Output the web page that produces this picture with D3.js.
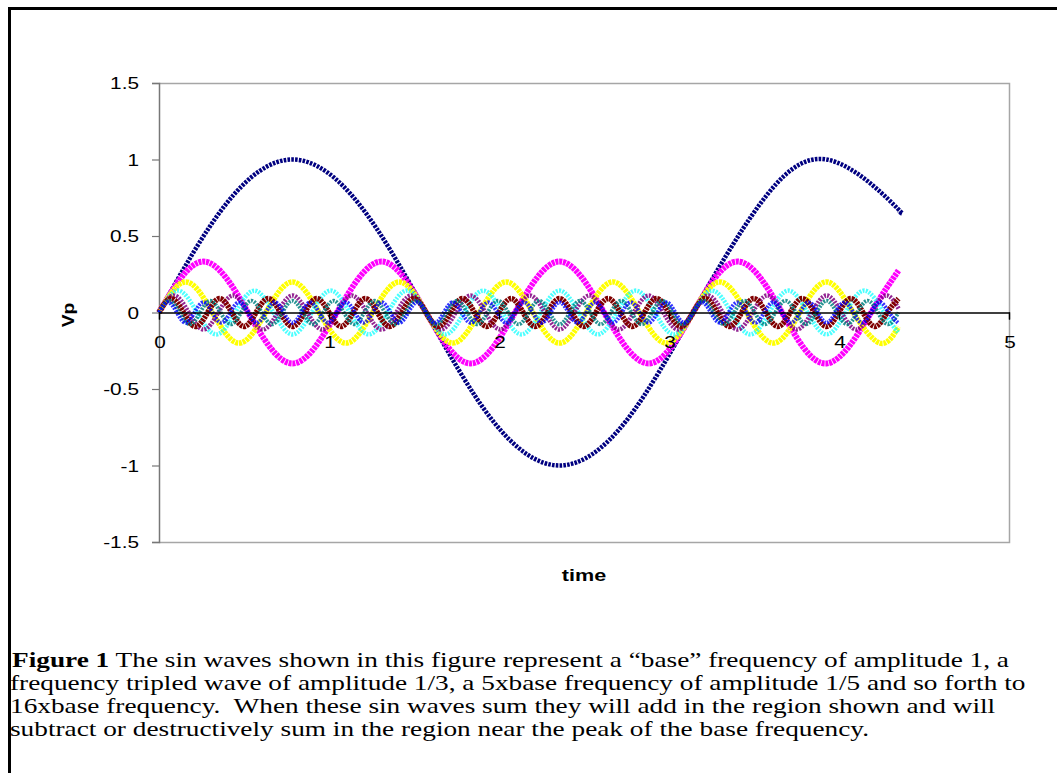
<!DOCTYPE html>
<html>
<head>
<meta charset="utf-8">
<script src="https://cdn.jsdelivr.net/npm/d3@7/dist/d3.min.js"></script>
<style>
  body { margin: 0; background: #fff; }
  svg { display: block; }
</style>
</head>
<body>
<div id="chart"></div>
<script>
// harmonic order of each wave (base, 3x, 5x ... 15x)
var harmonics = [1, 3, 5, 7, 9, 11, 13, 15];
var seriesColors = ['#000080', '#ff00ff', '#ffff00', '#00ffff', '#800080', '#800000', '#008080', '#0000ff'];

// time / Vp readings for each wave (peaks, zero crossings and the last point)
var time1 = [0, 0.393, 0.785, 1.178, 1.571, 1.963, 2.356, 2.749, 3.142, 3.534, 3.927, 4.320, 4.35];
var vp1 = [0, 0.707, 1, 0.707, 0, -0.707, -1, -0.707, 0, 0.707, 1, 0.707, 0.663];

var time3 = [0, 0.262, 0.524, 0.785, 1.047, 1.309, 1.571, 1.833, 2.094, 2.356, 2.618, 2.880, 3.142, 3.403, 3.665, 3.927, 4.189, 4.35];
var vp3 = [0, 0.333, 0, -0.333, 0, 0.333, 0, -0.333, 0, 0.333, 0, -0.333, 0, 0.333, 0, -0.333, 0, 0.274];

var time5 = [0, 0.157, 0.314, 0.471, 0.628, 0.785, 0.942, 1.100, 1.257, 1.414, 1.571, 1.728, 1.885, 2.042, 2.199, 2.356,
  2.513, 2.670, 2.827, 2.985, 3.142, 3.299, 3.456, 3.613, 3.770, 3.927, 4.084, 4.241, 4.35];
var vp5 = [0, 0.2, 0, -0.2, 0, 0.2, 0, -0.2, 0, 0.2, 0, -0.2, 0, 0.2, 0, -0.2,
  0, 0.2, 0, -0.2, 0, 0.2, 0, -0.2, 0, 0.2, 0, -0.2, -0.093];

var time7 = [0, 0.112, 0.224, 0.337, 0.449, 0.561, 0.673, 0.785, 0.898, 1.010, 1.122, 1.234, 1.346, 1.459, 1.571, 1.683,
  1.795, 1.907, 2.020, 2.132, 2.244, 2.356, 2.468, 2.581, 2.693, 2.805, 2.917, 3.029, 3.142, 3.254, 3.366, 3.478,
  3.590, 3.703, 3.815, 3.927, 4.039, 4.151, 4.264, 4.35];
var vp7 = [0, 0.143, 0, -0.143, 0, 0.143, 0, -0.143, 0, 0.143, 0, -0.143, 0, 0.143, 0, -0.143,
  0, 0.143, 0, -0.143, 0, 0.143, 0, -0.143, 0, 0.143, 0, -0.143, 0, 0.143, 0, -0.143,
  0, 0.143, 0, -0.143, 0, 0.143, 0, -0.134];

var time9 = [0, 0.087, 0.175, 0.262, 0.349, 0.436, 0.524, 0.611, 0.698, 0.785, 0.873, 0.960, 1.047, 1.134, 1.222, 1.309,
  1.396, 1.484, 1.571, 1.658, 1.745, 1.833, 1.920, 2.007, 2.094, 2.182, 2.269, 2.356, 2.443, 2.531, 2.618, 2.705,
  2.793, 2.880, 2.967, 3.054, 3.142, 3.229, 3.316, 3.403, 3.491, 3.578, 3.665, 3.752, 3.840, 3.927, 4.014, 4.102,
  4.189, 4.276, 4.35];
var vp9 = [0, 0.111, 0, -0.111, 0, 0.111, 0, -0.111, 0, 0.111, 0, -0.111, 0, 0.111, 0, -0.111,
  0, 0.111, 0, -0.111, 0, 0.111, 0, -0.111, 0, 0.111, 0, -0.111, 0, 0.111, 0, -0.111,
  0, 0.111, 0, -0.111, 0, 0.111, 0, -0.111, 0, 0.111, 0, -0.111, 0, 0.111, 0, -0.111,
  0, 0.111, 0.026];

var time11 = [0, 0.071, 0.143, 0.214, 0.286, 0.357, 0.428, 0.500, 0.571, 0.643, 0.714, 0.785, 0.857, 0.928, 1.000, 1.071,
  1.142, 1.214, 1.285, 1.357, 1.428, 1.499, 1.571, 1.642, 1.714, 1.785, 1.856, 1.928, 1.999, 2.071, 2.142, 2.213,
  2.285, 2.356, 2.428, 2.499, 2.570, 2.642, 2.713, 2.785, 2.856, 2.927, 2.999, 3.070, 3.142, 3.213, 3.284, 3.356,
  3.427, 3.499, 3.570, 3.641, 3.713, 3.784, 3.856, 3.927, 3.998, 4.070, 4.141, 4.213, 4.284, 4.35];
var vp11 = [0, 0.091, 0, -0.091, 0, 0.091, 0, -0.091, 0, 0.091, 0, -0.091, 0, 0.091, 0, -0.091,
  0, 0.091, 0, -0.091, 0, 0.091, 0, -0.091, 0, 0.091, 0, -0.091, 0, 0.091, 0, -0.091,
  0, 0.091, 0, -0.091, 0, 0.091, 0, -0.091, 0, 0.091, 0, -0.091, 0, 0.091, 0, -0.091,
  0, 0.091, 0, -0.091, 0, 0.091, 0, -0.091, 0, 0.091, 0, -0.091, 0, 0.090];

var time13 = [0, 0.060, 0.121, 0.181, 0.242, 0.302, 0.362, 0.423, 0.483, 0.544, 0.604, 0.665, 0.725, 0.785, 0.846, 0.906,
  0.967, 1.027, 1.087, 1.148, 1.208, 1.269, 1.329, 1.390, 1.450, 1.510, 1.571, 1.631, 1.692, 1.752, 1.812, 1.873,
  1.933, 1.994, 2.054, 2.115, 2.175, 2.235, 2.296, 2.356, 2.417, 2.477, 2.537, 2.598, 2.658, 2.719, 2.779, 2.840,
  2.900, 2.960, 3.021, 3.081, 3.142, 3.202, 3.262, 3.323, 3.383, 3.444, 3.504, 3.564, 3.625, 3.685, 3.746, 3.806,
  3.867, 3.927, 3.987, 4.048, 4.108, 4.169, 4.229, 4.289, 4.350];
var vp13 = [0, 0.077, 0, -0.077, 0, 0.077, 0, -0.077, 0, 0.077, 0, -0.077, 0, 0.077, 0, -0.077,
  0, 0.077, 0, -0.077, 0, 0.077, 0, -0.077, 0, 0.077, 0, -0.077, 0, 0.077, 0, -0.077,
  0, 0.077, 0, -0.077, 0, 0.077, 0, -0.077, 0, 0.077, 0, -0.077, 0, 0.077, 0, -0.077,
  0, 0.077, 0, -0.077, 0, 0.077, 0, -0.077, 0, 0.077, 0, -0.077, 0, 0.077, 0, -0.077,
  0, 0.077, 0, -0.077, 0, 0.077, 0, -0.077, 0];

var time15 = [0, 0.052, 0.105, 0.157, 0.209, 0.262, 0.314, 0.367, 0.419, 0.471, 0.524, 0.576, 0.628, 0.681, 0.733, 0.785,
  0.838, 0.890, 0.942, 0.995, 1.047, 1.100, 1.152, 1.204, 1.257, 1.309, 1.361, 1.414, 1.466, 1.518, 1.571, 1.623,
  1.676, 1.728, 1.780, 1.833, 1.885, 1.937, 1.990, 2.042, 2.094, 2.147, 2.199, 2.251, 2.304, 2.356, 2.409, 2.461,
  2.513, 2.566, 2.618, 2.670, 2.723, 2.775, 2.827, 2.880, 2.932, 2.985, 3.037, 3.089, 3.142, 3.194, 3.246, 3.299,
  3.351, 3.403, 3.456, 3.508, 3.560, 3.613, 3.665, 3.718, 3.770, 3.822, 3.875, 3.927, 3.979, 4.032, 4.084, 4.136,
  4.189, 4.241, 4.294, 4.346];
var vp15 = [0, 0.067, 0, -0.067, 0, 0.067, 0, -0.067, 0, 0.067, 0, -0.067, 0, 0.067, 0, -0.067,
  0, 0.067, 0, -0.067, 0, 0.067, 0, -0.067, 0, 0.067, 0, -0.067, 0, 0.067, 0, -0.067,
  0, 0.067, 0, -0.067, 0, 0.067, 0, -0.067, 0, 0.067, 0, -0.067, 0, 0.067, 0, -0.067,
  0, 0.067, 0, -0.067, 0, 0.067, 0, -0.067, 0, 0.067, 0, -0.067, 0, 0.067, 0, -0.067,
  0, 0.067, 0, -0.067, 0, 0.067, 0, -0.067, 0, 0.067, 0, -0.067, 0, 0.067, 0, -0.067,
  0, 0.067, 0, -0.067];

var timeSeries = [time1, time3, time5, time7, time9, time11, time13, time15];
var vpSeries = [vp1, vp3, vp5, vp7, vp9, vp11, vp13, vp15];

var xTicks = [0, 1, 2, 3, 4, 5];
var yTicks = [-1.5, -1, -0.5, 0, 0.5, 1, 1.5];

var captionBold = 'Figure 1';
var captionLines = [
  ' The sin waves shown in this figure represent a \u201cbase\u201d frequency of amplitude 1, a',
  'frequency tripled wave of amplitude 1/3, a 5xbase frequency of amplitude 1/5 and so forth to',
  '16xbase frequency.  When these sin waves sum they will add in the region shown and will',
  'subtract or destructively sum in the region near the peak of the base frequency.'
];

var width = 1057,
    height = 773;

var svg = d3.select('#chart').append('svg')
    .attr('width', width)
    .attr('height', height);

// frame round the figure
svg.append('path')
    .attr('d', 'M9.5,773V8.5H1057')
    .attr('fill', 'none')
    .attr('stroke', '#000')
    .attr('stroke-width', 3);

var x = d3.scaleLinear().domain([0, 5]).range([159, 1009]);
var y = d3.scaleLinear().domain([-1.5, 1.5]).range([542, 83]);

var labelFont = '"Liberation Sans", Arial, sans-serif';

// plot area border (top, right, bottom)
svg.append('path')
    .attr('d', 'M' + x(0) + ',' + (y(1.5) + 0.5) + 'H' + (x(5) + 0.5) + 'V' + (y(-1.5) + 0.5) + 'H' + x(0))
    .attr('fill', 'none')
    .attr('stroke', '#a6a6a6')
    .attr('stroke-width', 1.5);

// y axis
var yAxis = svg.append('g')
    .attr('transform', 'translate(' + x(0) + ',0)')
    .call(d3.axisLeft(y).tickValues(yTicks).tickSize(7).tickFormat(''));
yAxis.select('.domain').attr('stroke', '#777').attr('stroke-width', 1.5);
yAxis.selectAll('.tick line').attr('stroke', '#777').attr('stroke-width', 1.2);

svg.selectAll('.ylabel')
    .data(yTicks)
    .enter().append('text')
    .attr('class', 'ylabel')
    .attr('transform', function(d) { return 'translate(139,' + (y(d) + 6) + ') scale(1.3,1)'; })
    .attr('text-anchor', 'end')
    .style('font-family', labelFont)
    .style('font-size', '16px')
    .style('fill', '#000')
    .text(function(d) { return d; });

// waves
var line = d3.line()
    .x(function(d) { return x(d[0]); })
    .y(function(d) { return y(d[1]); })
    .curve(d3.curveNatural);

var strokeWidths = [4.5, 6, 5.5, 4.5, 4.5, 5.5, 4, 4];
var dashes = ['2.6 1.2', '3 0.8', '3 0.8', '2 1.2', '2 1.2', '2.5 0.8', '2 1.2', '2 1.2'];
var opacities = [1, 1, 1, 0.7, 0.85, 1, 0.85, 0.8];

svg.selectAll('.wave')
    .data(harmonics)
    .enter().append('path')
    .attr('class', 'wave')
    .attr('d', function(n, i) {
        return line(timeSeries[i].map(function(t, j) { return [t, vpSeries[i][j]]; }));
    })
    .attr('fill', 'none')
    .attr('stroke', function(n, i) { return seriesColors[i]; })
    .attr('stroke-width', function(n, i) { return strokeWidths[i]; })
    .attr('stroke-dasharray', function(n, i) { return dashes[i]; })
    .attr('stroke-opacity', function(n, i) { return opacities[i]; });

// x axis through zero
var xAxis = svg.append('g')
    .attr('transform', 'translate(0,' + y(0) + ')')
    .call(d3.axisBottom(x).tickValues(xTicks).tickSize(7).tickFormat(''));
xAxis.select('.domain').attr('stroke', '#000').attr('stroke-width', 1.3);
xAxis.selectAll('.tick line').attr('stroke', '#000').attr('stroke-width', 1.2);

svg.selectAll('.xlabel')
    .data(xTicks)
    .enter().append('text')
    .attr('class', 'xlabel')
    .attr('transform', function(d) { return 'translate(' + (x(d) + 1) + ',' + (y(0) + 35) + ') scale(1.3,1)'; })
    .attr('text-anchor', 'middle')
    .style('font-family', labelFont)
    .style('font-size', '16px')
    .text(function(d) { return d; });

// axis titles
svg.append('text')
    .attr('transform', 'translate(584,581) scale(1.35,1)')
    .attr('text-anchor', 'middle')
    .style('font-family', labelFont)
    .style('font-size', '16px')
    .style('font-weight', 'bold')
    .text('time');

svg.append('text')
    .attr('transform', 'translate(74,315) rotate(-90) scale(1.2,1)')
    .attr('text-anchor', 'middle')
    .style('font-family', labelFont)
    .style('font-size', '16px')
    .style('font-weight', 'bold')
    .text('Vp');

// caption, same horizontal stretch as the chart text
var serif = '"Liberation Serif", "Times New Roman", serif';
var lineStart = [12, 10, 10, 10];
var lineBase = [667, 690, 713, 736];

var caption = svg.selectAll('.caption')
    .data(captionLines)
    .enter().append('text')
    .attr('class', 'caption')
    .attr('transform', function(d, i) { return 'translate(' + lineStart[i] + ',' + lineBase[i] + ') scale(1.3,1)'; })
    .style('white-space', 'pre')
    .style('font-family', serif)
    .style('font-size', '21px');

caption.filter(function(d, i) { return i === 0; })
    .append('tspan')
    .style('font-weight', 'bold')
    .text(captionBold);

caption.append('tspan')
    .text(function(d) { return d; });
</script>
</body>
</html>
